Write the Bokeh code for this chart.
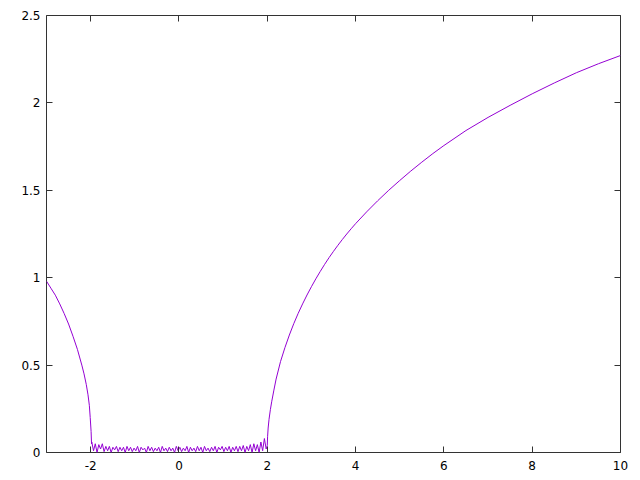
from bokeh.plotting import figure
from bokeh.models import FixedTicker, LinearAxis, Range1d, CustomJSTickFormatter
from bokeh.embed import file_html
from bokeh.resources import INLINE
import numpy as np

# Left branch (x < -2)
left_x = [-3.0, -2.9, -2.8, -2.7, -2.6, -2.5, -2.4, -2.3, -2.2, -2.15, -2.1,
          -2.06, -2.03, -2.01, -1.99, -1.98]
left_y = [0.98, 0.94, 0.90, 0.85, 0.795, 0.735, 0.665, 0.59, 0.50, 0.45, 0.39,
          0.33, 0.27, 0.20, 0.12, 0.05]

# Noisy band between -2 and 2
noise_x_start = -1.975
noise_x_end = 1.975
noise_y = [
    0.06, 0.01, 0.05, 0.0, 0.045, 0.02, 0.05, 0.005, 0.035, 0.01,
    0.035, 0.0, 0.03, 0.015, 0.035, 0.005, 0.03, 0.01, 0.03, 0.0,
    0.035, 0.01, 0.03, 0.005, 0.025, 0.01, 0.035, 0.0, 0.03, 0.015,
    0.025, 0.0, 0.035, 0.01, 0.03, 0.005, 0.025, 0.01, 0.03, 0.0,
    0.035, 0.01, 0.025, 0.005, 0.03, 0.01, 0.025, 0.0, 0.035, 0.01,
    0.03, 0.005, 0.025, 0.01, 0.035, 0.0, 0.03, 0.01, 0.025, 0.005,
    0.035, 0.01, 0.03, 0.0, 0.035, 0.01, 0.025, 0.005, 0.03, 0.01,
    0.035, 0.0, 0.03, 0.015, 0.035, 0.005, 0.03, 0.01, 0.035, 0.0,
    0.03, 0.01, 0.035, 0.005, 0.035, 0.01, 0.04, 0.0, 0.035, 0.01,
    0.045, 0.0, 0.05, 0.01, 0.045, 0.0, 0.06, 0.01, 0.08, 0.02]

# Right branch (x > 2)
right_x = [2.0, 2.007, 2.02, 2.04, 2.07, 2.1, 2.15, 2.2, 2.3, 2.4, 2.5, 2.6,
           2.7, 2.8, 2.9, 3.0, 3.1, 3.2, 3.3, 3.4, 3.5, 3.6, 3.7, 3.8, 3.9,
           4.0, 4.25, 4.5, 4.75, 5.0, 5.25, 5.5, 5.75, 6.0, 6.5, 7.0, 7.5,
           8.0, 8.5, 9.0, 9.5, 10.0]
right_y = [0.04, 0.09, 0.14, 0.19, 0.245, 0.29, 0.357, 0.42, 0.52, 0.60,
           0.672, 0.737, 0.796, 0.85, 0.901, 0.9485, 0.9935, 1.036, 1.0765,
           1.115, 1.151, 1.1855, 1.2185, 1.25, 1.28, 1.309, 1.3765, 1.44,
           1.50, 1.556, 1.61, 1.661, 1.71, 1.756, 1.842, 1.917, 1.986,
           2.052, 2.114, 2.1725, 2.224, 2.271]

x_ticks = [-2, 0, 2, 4, 6, 8, 10]
y_ticks = [0, 0.5, 1, 1.5, 2, 2.5]

noise_x = list(np.linspace(noise_x_start, noise_x_end, len(noise_y)))
xs = left_x + noise_x + right_x
ys = left_y + noise_y + right_y

FONT = "DejaVu Sans"
FS = "12px"
FRAME = "#333333"

p = figure(width=640, height=480, output_backend="svg", toolbar_location=None,
           x_range=Range1d(-3, 10), y_range=Range1d(0, 2.5),
           min_border_left=46, min_border_right=20, min_border_top=15,
           min_border_bottom=28, x_axis_location=None, y_axis_location=None)
p.xgrid.visible = False
p.ygrid.visible = False
p.outline_line_color = FRAME
p.outline_line_width = 1
p.background_fill_color = "white"
p.border_fill_color = "white"

def style(ax, ticks, labels=True):
    ax.ticker = FixedTicker(ticks=ticks)
    ax.axis_line_color = None
    ax.major_tick_in = 6
    ax.major_tick_out = 0
    ax.major_tick_line_color = FRAME
    ax.minor_tick_line_color = None
    ax.major_label_text_font = FONT
    ax.major_label_text_font_size = FS
    ax.major_label_text_color = "black"
    if labels:
        ax.formatter = CustomJSTickFormatter(code="return String(tick)")
    else:
        ax.formatter = CustomJSTickFormatter(code="return ''")
        ax.major_label_standoff = 0
        ax.major_label_text_font_size = "0px"

xb = LinearAxis()
style(xb, x_ticks)
xb.major_label_standoff = 8
p.add_layout(xb, "below")

yl = LinearAxis()
style(yl, y_ticks)
yl.major_label_standoff = 6
p.add_layout(yl, "left")

xt = LinearAxis()
style(xt, x_ticks, labels=False)
p.add_layout(xt, "above")

yr = LinearAxis()
style(yr, y_ticks, labels=False)
p.add_layout(yr, "right")

p.line(xs, ys, line_color="#9400D3", line_width=1)

open("out.html", "w").write(file_html(p, INLINE))
